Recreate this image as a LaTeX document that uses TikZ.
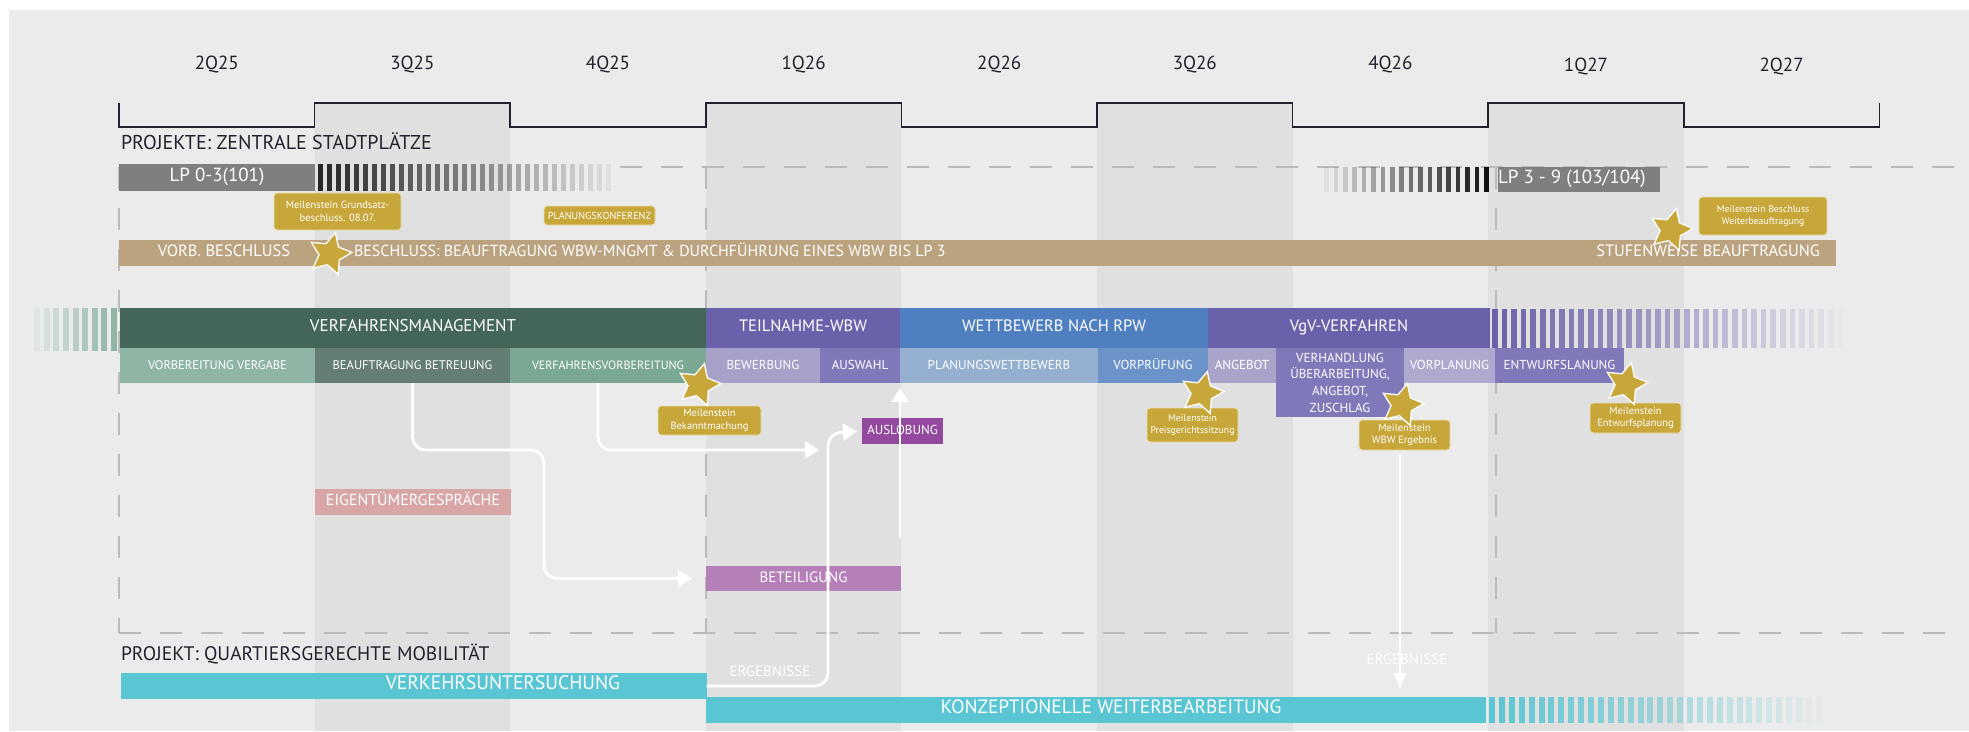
\documentclass[tikz,border=0pt]{standalone}
\usepackage{fontspec}
\setmainfont{PT Sans}
\usetikzlibrary{shapes.geometric,arrows.meta}
\definecolor{bgc}{HTML}{EBEBEB}
\definecolor{colc}{HTML}{E0E0E0}
\definecolor{dashc}{HTML}{BBBBBB}
\definecolor{ink}{HTML}{22222E}
\definecolor{lpgray}{HTML}{7F7F7F}
\definecolor{beige}{HTML}{BCA37F}
\definecolor{gold}{HTML}{C8A73A}
\definecolor{goldedge}{HTML}{EADDB0}
\definecolor{dkgreen}{HTML}{44665A}
\definecolor{sageA}{HTML}{8FB5A5}
\definecolor{sageB}{HTML}{657E74}
\definecolor{sageC}{HTML}{7BA893}
\definecolor{purp}{HTML}{6962AA}
\definecolor{lavA}{HTML}{A7A0C9}
\definecolor{purpB}{HTML}{8079B9}
\definecolor{wblue}{HTML}{4F7FC0}
\definecolor{lblue}{HTML}{94AFCF}
\definecolor{mblue}{HTML}{6B93C9}
\definecolor{lavB}{HTML}{AAA4CB}
\definecolor{lavC}{HTML}{AEA9CF}
\definecolor{magen}{HTML}{934A9E}
\definecolor{pinkc}{HTML}{D9A6A8}
\definecolor{orchid}{HTML}{B580B8}
\definecolor{cyanc}{HTML}{5BC6D3}
\newcommand\fsz[1]{\fontsize{#1}{#1}\selectfont}
\newcommand\msfont{\fontsize{10.5}{12.5}\selectfont}
\tikzset{
 barbase/.style={inner sep=0pt,outer sep=0pt,anchor=north west,text=white},
 bar/.style={barbase,text height=0.7em,text depth=0pt},
 lbl/.style={inner sep=0pt,outer sep=0pt,text height=0.7em,text depth=0pt},
 msbox/.style={fill=gold,draw=goldedge,line width=0.9pt,rounded corners=3pt,text=white,align=center,inner sep=0pt,outer sep=0pt,font=\msfont},
 mstar/.style={star,star points=5,star point ratio=2.0,minimum size=44pt,inner sep=0pt,fill=gold,draw=white,line width=1.3pt,rotate=-14},
 warrow/.style={draw=white,line width=2.8pt,rounded corners=13pt,-{Triangle[width=17pt,length=14pt]}},
 dashline/.style={draw=dashc,line width=1.6pt,dash pattern=on 22pt off 19pt},
}
\begin{document}
\begin{tikzpicture}[x=1pt,y=-1pt]
\useasboundingbox (0,0) rectangle (1969,731);
\fill[white] (0,0) rectangle (1969,731);
\fill[bgc] (9,10) rectangle (1969,731);
% shaded quarter columns
\foreach \a/\b in {314.6/510.2,705.8/901.4,1097/1292.6,1488.2/1683.8}
  \fill[colc] (\a,103) rectangle (\b,731);
% timeline bracket
\draw[ink,line width=1.5pt] (119,103) -- (119,127) -- (314.6,127) -- (314.6,103) -- (510.2,103) -- (510.2,127) -- (705.8,127) -- (705.8,103) -- (901.4,103) -- (901.4,127) -- (1097,127) -- (1097,103) -- (1292.6,103) -- (1292.6,127) -- (1488.2,127) -- (1488.2,103) -- (1683.8,103) -- (1683.8,127) -- (1879.4,127) -- (1879.4,103);
\foreach \x/\y/\t [count=\k] in {216.8/66/2Q25,412.4/66/3Q25,608/66/4Q25,803.6/66/1Q26,999.2/66/2Q26,1194.8/66/3Q26,1390.4/66/4Q26,1586/68/1Q27,1781.6/68/2Q27}
  \node[lbl,text=ink,font=\fsz{19}] (q\k) at (\x,\y) {\t};
% dashed frame lines
\draw[dashline] (620,166.7) -- (1957,166.7);
\draw[dashline] (119,632.7) -- (1957,632.7);
\draw[dashline] (119,166.7) -- (119,632.7);
\draw[dashline] (705.8,166.7) -- (705.8,632.7);
\draw[dashline] (1496,166.7) -- (1496,632.7);
% project 1 title
\node[lbl,anchor=west,text=ink,font=\fsz{20}] (title1) at (121,146) {PROJEKTE: ZENTRALE STADTPLÄTZE};
% LP bars
\node[bar,fill=lpgray,minimum width=196pt,minimum height=27pt,font=\fsz{19}] (lp03) at (119,164) {LP 0-3(101)};
\foreach \i in {0,...,32}{\pgfmathsetmacro\op{1-\i/34}
  \fill[gray!30!black,opacity=\op] ({318+9*\i},164) rectangle ++(5,27);}
\foreach \i in {0,...,17}{\pgfmathsetmacro\op{1-\i/18}
  \fill[gray!15!black,opacity=\op] ({1484-9.4*\i},167) rectangle ++(4.5,25);}
\node[bar,fill=lpgray,minimum width=162pt,minimum height=25pt] (lp39) at (1498,167) {};
\node[lbl,anchor=west,text=white,font=\fsz{19}] (lp39t) at (lp39.west) {LP 3 - 9 (103/104)};
% beige bar
\node[bar,fill=beige,minimum width=1717pt,minimum height=26pt] (beige) at (119,240) {};
\node[lbl,text=white,font=\fsz{16.5}] (vorb) at (224,253) {VORB. BESCHLUSS};
\node[lbl,anchor=west,text=white,font=\fsz{16}] (besch) at (354,253) {BESCHLUSS: BEAUFTRAGUNG WBW-MNGMT \& DURCHFÜHRUNG EINES WBW BIS LP 3};
\node[lbl,anchor=east,text=white,font=\fsz{16.5}] (stuf) at (1820,253) {STUFENWEISE BEAUFTRAGUNG};
% milestone boxes row 1
\node[msbox,minimum width=127pt,minimum height=37pt] (msA) at (337.5,211.5) {Meilenstein Grundsatz-\\beschluss. 08.07.};
\node[msbox,minimum width=111pt,minimum height=19pt,font=\fsz{10.2}] (planko) at (599.5,215.5) {PLANUNGSKONFERENZ};
\node[msbox,minimum width=128pt,minimum height=38pt,font=\fontsize{9.8}{12.5}\selectfont] (msB) at (1763,216) {Meilenstein Beschluss\\Weiterbeauftragung};
% process row
\foreach \i in {0,...,8}{\pgfmathsetmacro\op{1-\i/9}
  \fill[sageA,opacity=\op] ({111-9.6*\i},308) rectangle ++(6,43);}
\node[bar,fill=dkgreen,minimum width=586pt,minimum height=40pt,font=\fsz{17}] (vm) at (120,308) {VERFAHRENSMANAGEMENT};
\node[bar,fill=purp,minimum width=194pt,minimum height=40pt,font=\fsz{16.5}] (tw) at (706,308) {TEILNAHME-WBW};
\node[bar,fill=wblue,minimum width=308pt,minimum height=40pt,font=\fsz{16.5}] (wr) at (900,308) {WETTBEWERB NACH RPW};
\node[bar,fill=purp,minimum width=282pt,minimum height=40pt,font=\fsz{16.5}] (vgv) at (1208,308) {VgV-VERFAHREN};
\foreach \i in {0,...,36}{\pgfmathsetmacro\op{1-\i/37}
  \fill[purp,opacity=\op] ({1492+9.6*\i},309) rectangle ++(5.5,39);}
\node[bar,fill=sageA,minimum width=195pt,minimum height=35pt,font=\fsz{12.5}] (vv) at (120,348) {VORBEREITUNG VERGABE};
\node[bar,fill=sageB,minimum width=195pt,minimum height=35pt,font=\fsz{12.5}] (bb) at (315,348) {BEAUFTRAGUNG BETREUUNG};
\node[bar,fill=sageC,minimum width=196pt,minimum height=35pt,font=\fsz{12}] (vf) at (510,348) {VERFAHRENSVORBEREITUNG};
\node[bar,fill=lavA,minimum width=114pt,minimum height=35pt,font=\fsz{13}] (bew) at (706,348) {BEWERBUNG};
\node[bar,fill=purpB,minimum width=80pt,minimum height=35pt,font=\fsz{13}] (aus) at (820,348) {AUSWAHL};
\node[bar,fill=lblue,minimum width=198pt,minimum height=35pt,font=\fsz{13}] (plw) at (900,348) {PLANUNGSWETTBEWERB};
\node[bar,fill=mblue,minimum width=110pt,minimum height=35pt,font=\fsz{13}] (vpr) at (1098,348) {VORPRÜFUNG};
\node[bar,fill=lavB,minimum width=68pt,minimum height=35pt,font=\fsz{13}] (ang) at (1208,348) {ANGEBOT};
\node[barbase,fill=purpB,minimum width=128pt,minimum height=69pt,align=center,font=\fontsize{13}{16.7}\selectfont] (verh) at (1276,348) {VERHANDLUNG\\ÜBERARBEITUNG,\\ANGEBOT,\\ZUSCHLAG};
\node[bar,fill=lavC,minimum width=91pt,minimum height=35pt,font=\fsz{13}] (vorpl) at (1404,348) {VORPLANUNG};
\node[bar,fill=purpB,minimum width=129pt,minimum height=35pt,font=\fsz{13}] (entw) at (1495,348) {ENTWURFSLANUNG};
% boxes
\node[bar,fill=magen,minimum width=81pt,minimum height=26pt,font=\fsz{13}] (auslob) at (862,418) {AUSLOBUNG};
\node[bar,fill=orchid,minimum width=195pt,minimum height=25pt,font=\fsz{15}] (beteil) at (706,566) {BETEILIGUNG};
\node[bar,fill=pinkc,minimum width=196pt,minimum height=26pt,font=\fsz{16}] (eigen) at (315,489) {EIGENTÜMERGESPRÄCHE};
% project 2
\node[lbl,anchor=west,text=ink,font=\fsz{19.6}] (title2) at (121,657) {PROJEKT: QUARTIERSGERECHTE MOBILITÄT};
\node[bar,fill=cyanc,minimum width=585.6pt,minimum height=26pt] (verk) at (121,673) {};
\node[lbl,text=white,font=\fsz{19.5}] (verkt) at (503,686) {VERKEHRSUNTERSUCHUNG};
\node[bar,fill=cyanc,minimum width=780pt,minimum height=26pt] (konz) at (706,697) {};
\node[lbl,text=white,font=\fsz{19.3}] (konzt) at (1111,710) {KONZEPTIONELLE WEITERBEARBEITUNG};
\foreach \i in {0,...,33}{\pgfmathsetmacro\op{1-\i/34}
  \fill[cyanc,opacity=\op] ({1489+9.9*\i},697) rectangle ++(6,26);}
% milestone boxes row 2
\node[msbox,minimum width=103pt,minimum height=29pt] (msC) at (709.5,420.5) {Meilenstein\\Bekanntmachung};
\node[msbox,minimum width=91pt,minimum height=34pt,font=\fontsize{9.8}{12.5}\selectfont] (msD) at (1192.5,425) {Meilenstein\\Preisgerichtssitzung};
\node[msbox,minimum width=91pt,minimum height=30pt] (msE) at (1404.5,435) {Meilenstein\\WBW Ergebnis};
\node[msbox,minimum width=91pt,minimum height=30pt] (msF) at (1635.5,418) {Meilenstein\\Entwurfsplanung};
% white connectors
\coordinate (a2end) at (819,450);
\coordinate (a4start) at (900,538);
\draw[warrow,shorten >=14pt] (bb.south) |- (544,450) |- (beteil.west);
\draw[warrow] ([xshift=-10pt]vf.south) |- (a2end);
\draw[warrow,shorten >=5pt] (verk.east) -| (828,433) -- (auslob.west);
\draw[warrow,shorten >=5pt] (a4start) -- (aus.south east);
\draw[draw=white,line width=1.5pt,-{Triangle[width=12pt,length=15pt]},shorten <=5pt,shorten >=9pt] ([xshift=-4.5pt]msE.south) -- ([xshift=-4.5pt]msE.south |- konz.north);
\node[lbl,text=white,font=\fsz{15}] (erg1) at (770,673) {ERGEBNISSE};
\node[lbl,text=white,font=\fsz{15}] (erg2) at (1407,661) {ERGEBNISSE};
% stars
\node[mstar] (s1) at (330,254) {};
\node[mstar] (s2) at (1671,230) {};
\node[mstar] (s3) at (699,385) {};
\node[mstar] (s4) at (1202,393) {};
\node[mstar] (s5) at (1402,405) {};
\node[mstar] (s6) at (1626,384) {};
\end{tikzpicture}
\end{document}
